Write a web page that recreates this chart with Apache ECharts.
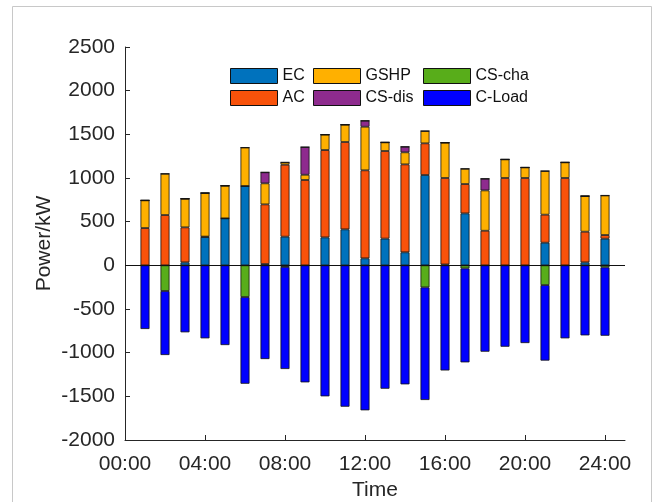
<!DOCTYPE html>
<html>
<head>
<meta charset="utf-8">
<script src="https://cdn.jsdelivr.net/npm/echarts@6/dist/echarts.min.js"></script>
<style>
html,body{margin:0;padding:0;background:#fff;}
#chart{width:656px;height:502px;}
</style>
</head>
<body>
<div id="chart"></div>
<script>
// Hour of each bar (1..24); axis runs 0..25
var hours = [1,2,3,4,5,6,7,8,9,10,11,12,13,14,15,16,17,18,19,20,21,22,23,24];
var tickLabels = ['00:00','04:00','08:00','12:00','16:00','20:00','24:00'];
var EC     = [0, 0, 34, 324, 538, 908, 15, 328, 0, 320, 412, 80, 306, 149, 1034, 10, 595, 0, 0, 0, 259, 0, 34, 305];
var AC     = [427, 576, 401, 5, 0, 0, 683, 824, 977, 1000, 1000, 1008, 1003, 1007, 363, 990, 336, 396, 1000, 1000, 321, 1000, 351, 42];
var GSHP   = [317, 473, 328, 499, 374, 441, 241, 27, 60, 177, 199, 499, 99, 138, 141, 405, 175, 462, 213, 121, 500, 179, 408, 453];
var CSdis  = [0, 0, 0, 0, 0, 0, 126, 0, 317, 0, 0, 69, 0, 64, 0, 0, 0, 134, 0, 0, 0, 0, 0, 0];
var CScha  = [0, -294, 0, 0, 0, -363, 0, -18, 0, 0, 0, 0, 0, 0, -252, 0, -35, 0, 0, 0, -226, 0, 0, -23];
var CLoad  = [-729, -733, -767, -836, -913, -993, -1073, -1169, -1340, -1500, -1619, -1660, -1413, -1363, -1290, -1204, -1076, -989, -932, -890, -865, -836, -802, -783];

var FONT = 'Liberation Sans, Arial, Helvetica, sans-serif';
var TXT = '#262626';

// category axis 0..25 hours
var cats = [];
for (var h = 0; h <= 25; h++) { cats.push((h < 10 ? '0' : '') + h + ':00'); }
function toCat(arr) {
  var out = cats.map(function(){ return '-'; });
  hours.forEach(function(hr, i){ out[hr] = arr[i]; });
  return out;
}
function showIdx(index) {
  return tickLabels.indexOf(cats[index]) >= 0;
}

var colors = {
  'EC': '#0072BD', 'AC': '#F8520A', 'GSHP': '#FFB000',
  'CS-dis': '#8E2B8E', 'CS-cha': '#58AD1A', 'C-Load': '#0000FF'
};
function mk(name, arr, withLine) {
  var s = {
    name: name, type: 'bar', stack: 'total', barWidth: 9,
    data: toCat(arr),
    itemStyle: { color: colors[name], borderColor: '#111', borderWidth: 0.8 },
    emphasis: { disabled: true },
    animation: false
  };
  if (withLine) {
    s.markLine = {
      silent: true, symbol: 'none', label: { show: false },
      lineStyle: { color: '#111', width: 1, type: 'solid' },
      data: [{ yAxis: 0 }], animation: false
    };
  }
  return s;
}

var legendBase = {
  orient: 'vertical', top: 63, itemWidth: 47, itemHeight: 15, itemGap: 6,
  icon: 'rect',
  textStyle: { fontFamily: FONT, fontSize: 16, color: '#111' },
  itemStyle: { borderColor: '#111', borderWidth: 1 },
  selectedMode: false
};

var chart = echarts.init(document.getElementById('chart'));
chart.setOption({
  backgroundColor: '#fff',
  animation: false,
  graphic: [{
    type: 'rect', shape: { x: 12.5, y: 6.5, width: 639, height: 520 },
    style: { fill: 'none', stroke: '#c8c8c8', lineWidth: 1 }, silent: true, z: -1
  }],
  legend: [
    Object.assign({}, legendBase, { left: 225, data: ['EC', 'AC'] }),
    Object.assign({}, legendBase, { left: 308, data: ['GSHP', 'CS-dis'] }),
    Object.assign({}, legendBase, { left: 418, data: ['CS-cha', 'C-Load'] })
  ],
  grid: { left: 125, right: 31, top: 47, bottom: 62, containLabel: false, outerBoundsMode: 'none' },
  xAxis: {
    type: 'category', data: cats, boundaryGap: false,
    name: 'Time', nameLocation: 'middle', nameGap: 39,
    nameTextStyle: { fontFamily: FONT, fontSize: 21, color: TXT },
    axisLine: { onZero: false, lineStyle: { color: TXT, width: 1 } },
    axisTick: { inside: true, length: 5, interval: function(i){ return showIdx(i); }, lineStyle: { color: TXT } },
    axisLabel: { interval: function(i){ return showIdx(i); }, fontFamily: FONT, fontSize: 21, color: TXT, margin: 14 },
    splitLine: { show: false }
  },
  yAxis: {
    type: 'value', min: -2000, max: 2500, interval: 500,
    name: 'Power/kW', nameLocation: 'middle', nameGap: 70, nameMoveOverlap: false,
    nameTextStyle: { fontFamily: FONT, fontSize: 21, color: TXT },
    axisLine: { show: true, lineStyle: { color: TXT, width: 1 } },
    axisTick: { show: true, inside: true, length: 5, lineStyle: { color: TXT } },
    axisLabel: { fontFamily: FONT, fontSize: 21, color: TXT, margin: 10,
                 formatter: function(v){ return String(v); } },
    splitLine: { show: false }
  },
  series: [
    mk('EC', EC, true),
    mk('AC', AC),
    mk('GSHP', GSHP),
    mk('CS-dis', CSdis),
    mk('CS-cha', CScha),
    mk('C-Load', CLoad)
  ]
});
</script>
</body>
</html>
